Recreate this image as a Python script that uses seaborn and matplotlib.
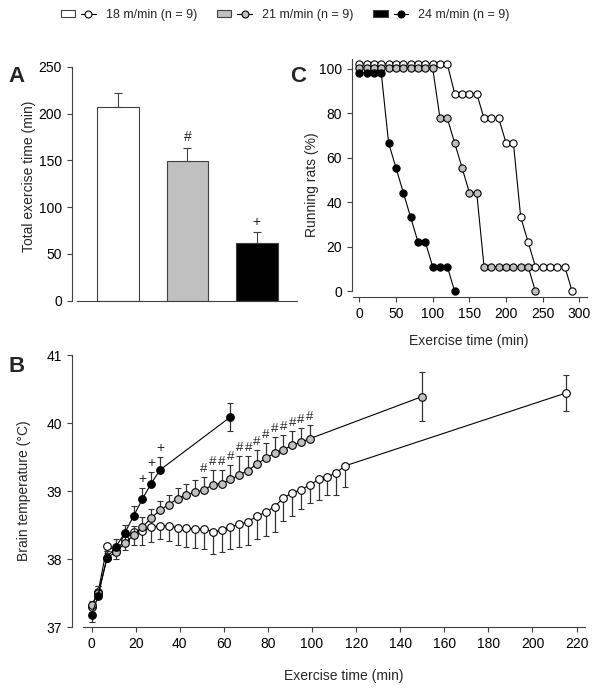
import matplotlib
matplotlib.use("Agg")
import matplotlib.pyplot as plt
import seaborn as sns
import pandas as pd
from matplotlib.patches import Patch
from matplotlib.lines import Line2D
from matplotlib.legend_handler import HandlerTuple

# ---- data ----
groups = ["18 m/min (n = 9)", "21 m/min (n = 9)", "24 m/min (n = 9)"]
fills = ["white", "#c0c0c0", "black"]

# A: total exercise time
total_mean = [207, 149, 62]
total_sem = [15, 14, 11]
total_marks = ["", "#", "+"]

# C: running rats (%) every 10 min (100 % rows shifted a bit so they don't overlap)
c_time_w = [0, 10, 20, 30, 40, 50, 60, 70, 80, 90, 100, 110, 120, 130, 140, 150, 160,
            170, 180, 190, 200, 210, 220, 230, 240, 250, 260, 270, 280, 290]
c_pct_w = [102.2, 102.2, 102.2, 102.2, 102.2, 102.2, 102.2, 102.2, 102.2, 102.2, 102.2, 102.2, 102.2,
           88.9, 88.9, 88.9, 88.9, 77.8, 77.8, 77.8, 66.7, 66.7, 33.3, 22.2,
           11.1, 11.1, 11.1, 11.1, 11.1, 0]
c_time_g = [0, 10, 20, 30, 40, 50, 60, 70, 80, 90, 100, 110, 120, 130, 140, 150, 160,
            170, 180, 190, 200, 210, 220, 230, 240]
c_pct_g = [100.5, 100.5, 100.5, 100.5, 100.5, 100.5, 100.5, 100.5, 100.5, 100.5, 100.5,
           77.8, 77.8, 66.7, 55.6, 44.4, 44.4, 11.1, 11.1, 11.1, 11.1, 11.1, 11.1, 11.1, 0]
c_time_b = [0, 10, 20, 30, 40, 50, 60, 70, 80, 90, 100, 110, 120, 130]
c_pct_b = [98.2, 98.2, 98.2, 98.2, 66.7, 55.6, 44.4, 33.3, 22.2, 22.2, 11.1, 11.1, 11.1, 0]

# B: brain temperature
b_time_w = [0, 3, 7, 11, 15, 19, 23, 27, 31, 35, 39, 43, 47, 51, 55, 59, 63, 67, 71, 75,
            79, 83, 87, 91, 95, 99, 103, 107, 111, 115, 215]
b_temp_w = [37.30, 37.52, 38.19, 38.12, 38.28, 38.40, 38.41, 38.47, 38.49, 38.49, 38.46,
            38.45, 38.44, 38.44, 38.40, 38.42, 38.47, 38.51, 38.55, 38.63, 38.69, 38.77,
            38.90, 38.97, 39.02, 39.09, 39.17, 39.21, 39.27, 39.37, 40.44]
b_se_w = [0.08, 0.10, 0.10, 0.12, 0.15, 0.20, 0.20, 0.22, 0.20, 0.23, 0.25, 0.27, 0.28,
          0.30, 0.32, 0.32, 0.32, 0.33, 0.34, 0.34, 0.35, 0.37, 0.34, 0.34, 0.29, 0.26,
          0.30, 0.27, 0.33, 0.31, 0.26]
b_time_g = [0, 3, 7, 11, 15, 19, 23, 27, 31, 35, 39, 43, 47, 51, 55, 59, 63, 67, 71, 75,
            79, 83, 87, 91, 95, 99, 150]
b_temp_g = [37.32, 37.50, 38.02, 38.10, 38.23, 38.35, 38.47, 38.60, 38.72, 38.80, 38.89,
            38.94, 38.98, 39.02, 39.09, 39.11, 39.17, 39.24, 39.30, 39.40, 39.48, 39.56,
            39.61, 39.67, 39.72, 39.77, 40.39]
b_se_g = [0.06, 0.10, 0.10, 0.12, 0.12, 0.14, 0.15, 0.14, 0.14, 0.14, 0.15, 0.17, 0.18,
          0.18, 0.22, 0.20, 0.21, 0.27, 0.22, 0.21, 0.22, 0.24, 0.22, 0.21, 0.20, 0.20, 0.36]
b_time_b = [0, 3, 7, 11, 15, 19, 23, 27, 31, 63]
b_temp_b = [37.18, 37.46, 38.02, 38.18, 38.38, 38.63, 38.88, 39.11, 39.31, 40.09]
b_se_b = [0.10, 0.15, 0.10, 0.12, 0.12, 0.15, 0.16, 0.17, 0.19, 0.20]
hash_times = [51, 55, 59, 63, 67, 71, 75, 79, 83, 87, 91, 95, 99]
plus_times = [23, 27, 31]

sns.set_theme(style="ticks")
plt.rcParams["font.family"] = ["Liberation Sans", "DejaVu Sans"]
plt.rcParams["axes.edgecolor"] = "#404040"
plt.rcParams["axes.linewidth"] = 0.8
plt.rcParams["xtick.color"] = "#404040"
plt.rcParams["ytick.color"] = "#404040"
plt.rcParams["xtick.labelcolor"] = "black"
plt.rcParams["ytick.labelcolor"] = "black"

fig = plt.figure(figsize=(6, 6.91), dpi=100)
axA = fig.add_axes([0.1195, 0.5648, 0.3755, 0.3386])
axC = fig.add_axes([0.586, 0.5698, 0.392, 0.3453])
axB = fig.add_axes([0.12, 0.0926, 0.863, 0.3936])

fs = 10

# ---- panel A ----
dfA = pd.DataFrame({"group": groups, "time": total_mean})
sns.barplot(data=dfA, x="group", y="time", hue="group", palette=fills, legend=False,
            edgecolor="#404040", linewidth=0.8, width=0.6, ax=axA)
axA.errorbar(range(3), total_mean, yerr=[[0, 0, 0], total_sem], fmt="none",
             ecolor="#404040", elinewidth=0.8, capsize=3, capthick=0.8)
for i, m in enumerate(total_marks):
    if m:
        axA.text(i, total_mean[i] + total_sem[i] + 4, m, ha="center", va="bottom", fontsize=fs)
axA.set_xlim(-0.67, 2.58)
axA.set_ylim(0, 250)
axA.set_yticks([0, 50, 100, 150, 200, 250])
axA.set_xticks([])
axA.set_xlabel("")
axA.set_ylabel("Total exercise time (min)", fontsize=fs)
axA.yaxis.set_label_coords(-0.158, 0.53)
axA.spines[["top", "right"]].set_visible(False)
axA.spines["bottom"].set_bounds(-0.6, 2.58)
axA.tick_params(labelsize=fs, length=3.5, width=0.8)

# ---- panel C ----
for t, p, fc in [(c_time_w, c_pct_w, fills[0]), (c_time_g, c_pct_g, fills[1]),
                 (c_time_b, c_pct_b, fills[2])]:
    sns.lineplot(x=t, y=p, ax=axC, color="black", lw=0.8, marker="o", ms=5.2,
                 markerfacecolor=fc, markeredgecolor="black", markeredgewidth=0.8,
                 errorbar=None)
axC.set_xlim(-10.4, 310)
axC.set_ylim(-2.7, 104.6)
axC.set_xticks(range(0, 301, 50))
axC.set_yticks(range(0, 101, 20))
axC.set_xlabel("Exercise time (min)", fontsize=fs)
axC.set_ylabel("Running rats (%)", fontsize=fs)
axC.xaxis.set_label_coords(0.5, -0.155)
axC.yaxis.set_label_coords(-0.14, 0.47)
axC.spines[["top", "right"]].set_visible(False)
axC.spines["bottom"].set_bounds(-8, 310)
axC.spines["left"].set_bounds(0, 104.6)
axC.tick_params(labelsize=fs, length=3.5, width=0.8)

# ---- panel B ----
series = [(b_time_w, b_temp_w, b_se_w, fills[0], "down"),
          (b_time_g, b_temp_g, b_se_g, fills[1], "up"),
          (b_time_b, b_temp_b, b_se_b, fills[2], "up")]
for k, (t, y, se, fc, d) in enumerate(series):
    lo = [s if d == "down" else 0 for s in se]
    hi = [s if d == "up" else 0 for s in se]
    lo[-1] = se[-1]
    hi[-1] = se[-1]
    if k == 2:
        lo[0], hi[0] = se[0], 0
    axB.errorbar(t, y, yerr=[lo, hi], fmt="none", ecolor="#333333", elinewidth=0.9,
                 capsize=2, capthick=0.8, zorder=1 + k)
    sns.lineplot(x=t, y=y, ax=axB, color="black", lw=0.8, marker="o", ms=5.5,
                 markerfacecolor=fc, markeredgecolor="black", markeredgewidth=0.8,
                 errorbar=None, zorder=2 + k)

for ht in hash_times:
    i = b_time_g.index(ht)
    axB.text(ht, b_temp_g[i] + b_se_g[i] + 0.03, "#", ha="center", va="bottom", fontsize=9.5)
for pt in plus_times:
    i = b_time_b.index(pt)
    axB.text(pt, b_temp_b[i] + b_se_b[i] + 0.03, "+", ha="center", va="bottom", fontsize=10)

axB.set_xlim(-8.9, 226)
axB.set_ylim(37, 41)
axB.set_xticks(range(0, 221, 20))
axB.set_yticks([37, 38, 39, 40, 41])
axB.set_xlabel("Exercise time (min)", fontsize=fs)
axB.set_ylabel("Brain temperature (°C)", fontsize=fs)
axB.xaxis.set_label_coords(0.525, -0.155)
axB.yaxis.set_label_coords(-0.08, 0.5)
axB.spines[["top", "right"]].set_visible(False)
axB.spines["bottom"].set_bounds(-4, 224)
axB.tick_params(labelsize=fs, length=3.5, width=0.8)

# ---- panel letters ----
fig.text(8 / 600, 1 - 76 / 691, "A", fontsize=16, fontweight="bold", va="center")
fig.text(290 / 600, 1 - 76 / 691, "C", fontsize=16, fontweight="bold", va="center")
fig.text(8 / 600, 1 - 367 / 691, "B", fontsize=16, fontweight="bold", va="center")

# ---- shared legend ----
handles = []
for fc in fills:
    patch = Patch(facecolor=fc, edgecolor="#404040", linewidth=0.8)
    line = Line2D([], [], color="black", lw=0.8, marker="o", ms=5,
                  markerfacecolor=fc, markeredgecolor="black", markeredgewidth=0.8)
    handles.append((patch, line))
fig.legend(handles, groups, loc="center", bbox_to_anchor=(0.475, 1 - 15 / 691), ncol=3,
           frameon=False, fontsize=9, handlelength=2.8, handleheight=0.55,
           handletextpad=0.8, columnspacing=1.6,
           handler_map={tuple: HandlerTuple(ndivide=None, pad=0.5)})

fig.savefig("out.png", dpi=100)
